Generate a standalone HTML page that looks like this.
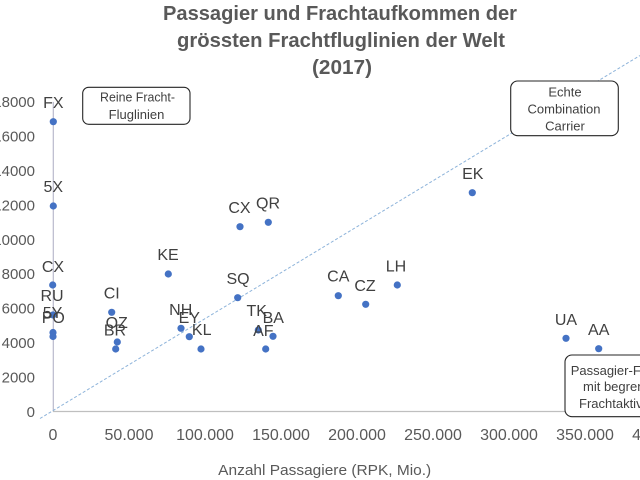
<!DOCTYPE html>
<html>
<head>
<meta charset="utf-8">
<style>
html,body{margin:0;padding:0;background:#fff;}
svg{display:block;}
text{font-family:"Liberation Sans",Arial,sans-serif;}
</style>
</head>
<body>
<svg width="640" height="480" viewBox="0 0 640 480" xmlns="http://www.w3.org/2000/svg">
<rect x="0" y="0" width="640" height="480" fill="#ffffff"/>

<!-- Title -->
<g fill="#595959" font-weight="bold" font-size="20" text-anchor="middle">
<text x="340" y="20" textLength="354" lengthAdjust="spacingAndGlyphs">Passagier und Frachtaufkommen der</text>
<text x="341" y="47" textLength="328" lengthAdjust="spacingAndGlyphs">grössten Frachtfluglinien der Welt</text>
<text x="342" y="74" textLength="60" lengthAdjust="spacingAndGlyphs">(2017)</text>
</g>

<!-- Axes -->
<line x1="53.3" y1="101.9" x2="53.3" y2="411.5" stroke="#b9b9cc" stroke-width="1.2"/>
<line x1="53" y1="411.5" x2="640" y2="411.5" stroke="#bfbfbf" stroke-width="1.2"/>

<!-- Y tick labels -->
<g fill="#595959" font-size="15" text-anchor="end">
<text x="35" y="416.8">0</text>
<text x="35" y="382.4">2000</text>
<text x="35" y="348.0">4000</text>
<text x="35" y="313.6">6000</text>
<text x="35" y="279.2">8000</text>
<text x="35" y="244.8">10000</text>
<text x="35" y="210.4">12000</text>
<text x="35" y="176.0">14000</text>
<text x="35" y="141.6">16000</text>
<text x="35" y="107.2">18000</text>
</g>

<!-- X tick labels -->
<g fill="#595959" font-size="16" text-anchor="middle">
<text x="53" y="440">0</text>
<text x="129" y="440">50.000</text>
<text x="205" y="440">100.000</text>
<text x="281" y="440">150.000</text>
<text x="357" y="440">200.000</text>
<text x="433" y="440">250.000</text>
<text x="509" y="440">300.000</text>
<text x="585" y="440">350.000</text>
<text x="661" y="440">400.000</text>
</g>

<!-- X axis title -->
<text x="324.7" y="475" fill="#595959" font-size="15" text-anchor="middle" textLength="213" lengthAdjust="spacingAndGlyphs">Anzahl Passagiere (RPK, Mio.)</text>

<!-- Dashed diagonal -->
<line x1="40" y1="418.5" x2="640" y2="55.5" stroke="#8db3da" stroke-width="1" stroke-dasharray="3,2"/>

<!-- Points -->
<g fill="#4472C4">
<circle cx="53.3" cy="121.7" r="3.6"/>
<circle cx="53.3" cy="206" r="3.6"/>
<circle cx="52.7" cy="285" r="3.6"/>
<circle cx="53" cy="315" r="3.6"/>
<circle cx="53" cy="332.5" r="3.6"/>
<circle cx="53" cy="336.5" r="3.6"/>
<circle cx="111.7" cy="312.3" r="3.6"/>
<circle cx="117.3" cy="342" r="3.6"/>
<circle cx="115.7" cy="349" r="3.6"/>
<circle cx="168.3" cy="274" r="3.6"/>
<circle cx="181" cy="328.3" r="3.6"/>
<circle cx="189.3" cy="336.7" r="3.6"/>
<circle cx="201" cy="349" r="3.6"/>
<circle cx="240" cy="226.7" r="3.6"/>
<circle cx="268.3" cy="222.3" r="3.6"/>
<circle cx="237.7" cy="297.7" r="3.6"/>
<circle cx="258.3" cy="330" r="3.6"/>
<circle cx="273" cy="336.3" r="3.6"/>
<circle cx="265.7" cy="349" r="3.6"/>
<circle cx="338.3" cy="295.7" r="3.6"/>
<circle cx="365.7" cy="304.3" r="3.6"/>
<circle cx="397.3" cy="285" r="3.6"/>
<circle cx="472.3" cy="192.7" r="3.6"/>
<circle cx="566" cy="338.3" r="3.6"/>
<circle cx="598.7" cy="348.7" r="3.6"/>
</g>

<!-- Data labels -->
<g fill="#404040" font-size="16" text-anchor="middle">
<text x="53.3" y="108">FX</text>
<text x="53.3" y="192">5X</text>
<text x="53" y="272">CX</text>
<text x="52" y="301">RU</text>
<text x="52.5" y="318">5Y</text>
<text x="53.3" y="323">PO</text>
<text x="111.7" y="298.5">CI</text>
<text x="116.7" y="328">OZ</text>
<text x="115" y="335.5">BR</text>
<text x="168" y="260">KE</text>
<text x="180.7" y="315">NH</text>
<text x="189.3" y="323">EY</text>
<text x="201.7" y="335">KL</text>
<text x="239.5" y="213">CX</text>
<text x="268" y="208.5">QR</text>
<text x="238" y="284">SQ</text>
<text x="256.7" y="316">TK</text>
<text x="273.3" y="323">BA</text>
<text x="263.3" y="336">AF</text>
<text x="338.3" y="281.7">CA</text>
<text x="365" y="291">CZ</text>
<text x="396" y="271.5">LH</text>
<text x="472.8" y="179">EK</text>
<text x="566" y="325">UA</text>
<text x="598.7" y="335">AA</text>
</g>

<!-- Annotation boxes -->
<rect x="82.7" y="87.3" width="107.3" height="37" rx="6" ry="6" fill="#ffffff" stroke="#262626" stroke-width="1.1"/>
<g fill="#404040" font-size="13" text-anchor="middle">
<text x="137.5" y="101.7" textLength="75" lengthAdjust="spacingAndGlyphs">Reine Fracht-</text>
<text x="136.5" y="119">Fluglinien</text>
</g>

<rect x="510.7" y="81" width="107.6" height="54.7" rx="7" ry="7" fill="#ffffff" stroke="#262626" stroke-width="1.1"/>
<g fill="#404040" font-size="13" text-anchor="middle">
<text x="565" y="96.5">Echte</text>
<text x="564" y="113.5">Combination</text>
<text x="565" y="130.5">Carrier</text>
</g>

<rect x="565" y="355" width="120" height="61.7" rx="7" ry="7" fill="#ffffff" stroke="#262626" stroke-width="1.1"/>
<g fill="#404040" font-size="13">
<text x="570.7" y="375">Passagier-Fluglinien</text>
<text x="583" y="391">mit begrenzter</text>
<text x="579" y="408">Frachtaktivität</text>
</g>
</svg>
</body>
</html>
